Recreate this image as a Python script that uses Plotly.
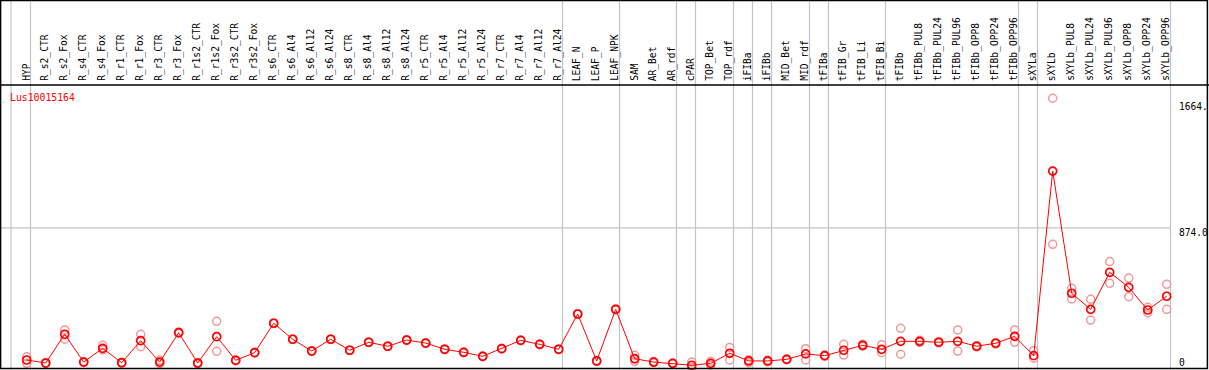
import plotly.graph_objects as go

categories = ["HYP", "R_s2_CTR", "R_s2_Fox", "R_s4_CTR", "R_s4_Fox", "R_r1_CTR", "R_r1_Fox",
              "R_r3_CTR", "R_r3_Fox", "R_r1s2_CTR", "R_r1s2_Fox", "R_r3s2_CTR", "R_r3s2_Fox",
              "R_s6_CTR", "R_s6_Al4", "R_s6_Al12", "R_s6_Al24", "R_s8_CTR", "R_s8_Al4",
              "R_s8_Al12", "R_s8_Al24", "R_r5_CTR", "R_r5_Al4", "R_r5_Al12", "R_r5_Al24",
              "R_r7_CTR", "R_r7_Al4", "R_r7_Al12", "R_r7_Al24", "LEAF_N", "LEAF_P", "LEAF_NPK",
              "SAM", "AR_Bet", "AR_rdf", "cPAR", "TOP_Bet", "TOP_rdf", "iFIBa", "iFIBb",
              "MID_Bet", "MID_rdf", "tFIBa", "tFIB_Gr", "tFIB_Li", "tFIB_Bi", "tFIBb",
              "tFIBb_PUL8", "tFIBb_PUL24", "tFIBb_PUL96", "tFIBb_OPP8", "tFIBb_OPP24",
              "tFIBb_OPP96", "sXYLa", "sXYLb", "sXYLb_PUL8", "sXYLb_PUL24", "sXYLb_PUL96",
              "sXYLb_OPP8", "sXYLb_OPP24", "sXYLb_OPP96"]

mean_values = [47, 28, 208, 34, 120, 30, 168, 34, 218, 28, 193, 45, 93,
               277, 177, 103, 177, 108, 158, 133, 172, 153, 114, 95, 70,
               118, 170, 145, 114, 335, 41, 364,
               55, 34, 26, 14, 26, 89, 41, 41, 51, 85, 74, 108, 139, 114,
               164, 164, 158, 164, 133, 152, 195, 74,
               1230, 465, 364, 596, 502, 360, 446]

rep1_values = [67, 30, 235, 36, 140, 32, 208, 45, 222, 32, 289, 47, 95,
               279, 179, 105, 179, 110, 160, 135, 174, 155, 116, 97, 72,
               120, 172, 147, 116, 337, 43, 366,
               76, 37, 28, 34, 39, 126, 48, 46, 53, 118, 78, 145, 145, 143,
               245, 170, 162, 235, 137, 156, 235, 105,
               1686, 496, 427, 663, 560, 377, 521]

rep2_values = [26, 26, 177, 32, 110, 28, 130, 24, 214, 24, 101, 43, 91,
               275, 175, 101, 175, 106, 156, 131, 170, 151, 112, 93, 68,
               116, 168, 143, 112, 333, 39, 362,
               39, 31, 24, 1, 14, 47, 30, 36, 49, 47, 70, 78, 133, 93,
               83, 158, 154, 103, 129, 148, 158, 58,
               771, 429, 297, 527, 443, 343, 364]

group_end_index = [0, 28, 31, 34, 35, 37, 38, 39, 41, 42, 45, 52, 53, 60]

gene_label = "Lus10015164"
y_tick_values = [1664, 874, 0]
y_tick_labels = ["1664.", "874.0", "0"]

W, H = 1209, 370
# pixel mapping: x_px = 26.7 + 19*i ; y_px = 367.5 - V*0.1597
X0, DX = 26.7, 19.0
Y0, KY = 367.5, 0.1597
xr = [(0 - X0) / DX, (W - X0) / DX]
yr = [(Y0 - H) / KY, Y0 / KY]

x_idx = list(range(len(categories)))

fig = go.Figure()
mono = "DejaVu Sans Mono"
rep_color = "#f09a9a"

fig.add_trace(go.Scatter(x=x_idx, y=rep1_values, mode="markers",
                         marker=dict(symbol="circle-open", size=8, color=rep_color,
                                     line=dict(width=1.5, color=rep_color)),
                         hoverinfo="skip", showlegend=False))
fig.add_trace(go.Scatter(x=x_idx, y=rep2_values, mode="markers",
                         marker=dict(symbol="circle-open", size=8, color=rep_color,
                                     line=dict(width=1.5, color=rep_color)),
                         hoverinfo="skip", showlegend=False))
fig.add_trace(go.Scatter(x=x_idx, y=mean_values, mode="lines+markers",
                         line=dict(color="#ff0000", width=1),
                         marker=dict(symbol="circle-open", size=8, color="#ff0000",
                                     line=dict(width=1.7, color="#ff0000")),
                         text=categories, showlegend=False))

shapes = []
# vertical group separators
shapes.append(dict(type="line", xref="x", yref="paper", x0=(11 - X0) / DX, x1=(11 - X0) / DX,
                   y0=0, y1=1, line=dict(color="#c4c4c4", width=1.2), layer="below"))
for gi in group_end_index:
    shapes.append(dict(type="line", xref="x", yref="paper", x0=gi + 0.2, x1=gi + 0.2,
                       y0=0, y1=1, line=dict(color="#c4c4c4", width=1.2), layer="below"))
# horizontal grid line at 874
shapes.append(dict(type="line", xref="x", yref="y", x0=xr[0], x1=60 + 0.2,
                   y0=874, y1=874, line=dict(color="#c4c4c4", width=1.2), layer="below"))
# header separator line
shapes.append(dict(type="line", xref="paper", yref="paper", x0=0, x1=1,
                   y0=1 - 85 / H, y1=1 - 85 / H, line=dict(color="black", width=1.5)))
# border
shapes.append(dict(type="rect", xref="paper", yref="paper", x0=0.6 / W, x1=1 - 1.6 / W,
                   y0=1.6 / H, y1=1 - 0.6 / H, line=dict(color="black", width=1.5)))

annotations = []
for i, c in enumerate(categories):
    annotations.append(dict(x=i - 0.05, y=1 - 83 / H, xref="x", yref="paper", text=c,
                            textangle=-90, showarrow=False, xanchor="center", yanchor="bottom",
                            font=dict(family=mono, size=9.6, color="black")))
annotations.append(dict(x=8 / W, y=1 - 97 / H, xref="paper", yref="paper", text=gene_label,
                        showarrow=False, xanchor="left", yanchor="middle",
                        font=dict(family=mono, size=9.8, color="#ff0000")))
label_y_px = [107, 232, 362]
for lab, ypx in zip(y_tick_labels, label_y_px):
    annotations.append(dict(x=1177 / W, y=1 - ypx / H, xref="paper", yref="paper", text=lab,
                            showarrow=False, xanchor="left", yanchor="middle",
                            font=dict(family=mono, size=9.6, color="black")))

fig.update_layout(width=W, height=H, margin=dict(l=0, r=0, t=0, b=0),
                  paper_bgcolor="white", plot_bgcolor="white",
                  xaxis=dict(range=xr, visible=False, fixedrange=True),
                  yaxis=dict(range=yr, visible=False, fixedrange=True),
                  shapes=shapes, annotations=annotations, showlegend=False)

fig.write_html("out.html", config={"displayModeBar": False},
               post_script="document.body.style.margin='0px';document.body.style.overflow='hidden';")
